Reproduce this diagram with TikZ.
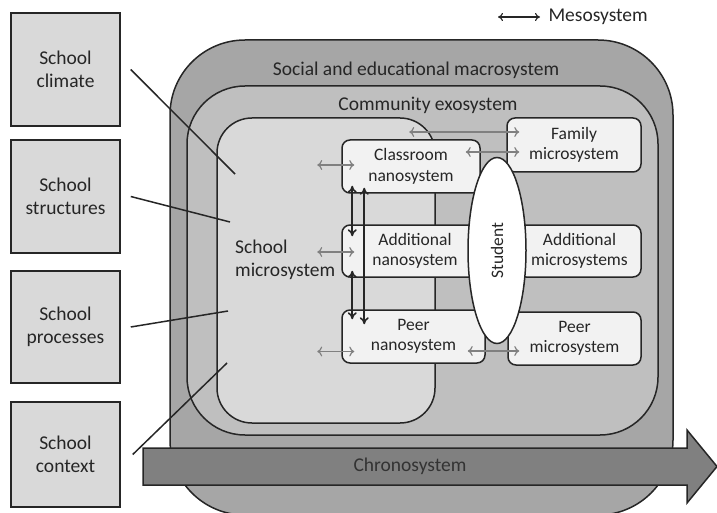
\documentclass[tikz,border=0pt]{standalone}
\usepackage{fontspec}
\setmainfont{Carlito}
\usetikzlibrary{arrows.meta,shapes.geometric}
\definecolor{macro_gray}{HTML}{A6A6A6}
\definecolor{exo_gray}{HTML}{BFBFBF}
\definecolor{micro_gray}{HTML}{D9D9D9}
\definecolor{nano_gray}{HTML}{F2F2F2}
\definecolor{chrono_gray}{HTML}{808080}
\definecolor{ink}{HTML}{262626}

\begin{document}
\begin{tikzpicture}[x=1pt,y=-1pt,
    big/.style={font=\fontsize{19.5}{23.5}\selectfont,text=ink},
    small/.style={font=\fontsize{17.5}{20.5}\selectfont,text=ink},
    sysbox/.style={draw=ink,line width=1.5pt,inner sep=0pt},
    schoolbox/.style={sysbox,fill=micro_gray,minimum width=109pt,align=center,big},
    nanobox/.style={sysbox,fill=nano_gray,rounded corners=8pt,align=center,small},
    link/.style={draw=ink,line width=1.5pt},
    meso/.style={<->,>={To[length=5pt,width=10pt]},draw=chrono_gray,line width=1.2pt},
    nest/.style={<->,>={To[length=7pt,width=9pt]},draw=ink,line width=1.6pt}]
    \useasboundingbox (0,0) rectangle (717,513);
    \node[sysbox,fill=macro_gray,minimum width=503pt,minimum height=475pt,rounded corners=75pt] (macro) at (421.5,277.5) {};
    \node[sysbox,fill=exo_gray,minimum width=471pt,minimum height=349pt,rounded corners=58pt] (exo) at (422.5,260.5) {};
    \node[sysbox,fill=micro_gray,minimum width=218pt,minimum height=305pt,rounded corners=35pt] (school) at (326,270.5) {};
    \node[big] (macrolbl) at (416,70) {Social and educational macrosystem};
    \node[big] (exolbl) at (428,105) {Community exosystem};
    \node[big,anchor=west,align=left,inner sep=0pt] (schoollbl) at (235,260) {School\\microsystem};
    \node[schoolbox,minimum height=113pt] (climate) at (65.5,69.5) {School\\climate};
    \node[schoolbox,minimum height=113pt] (structures) at (65.5,196.5) {School\\structures};
    \node[schoolbox,minimum height=112pt] (processes) at (65.5,327) {School\\processes};
    \node[schoolbox,minimum height=105pt] (context) at (65.5,454.5) {School\\context};
    \coordinate (climatept) at (235,174);
    \coordinate (structurespt) at (230,222);
    \coordinate (processespt) at (228,311);
    \coordinate (contextpt) at (227,363);
    \draw[link] ([xshift=10pt]climate.east) -- (climatept);
    \draw[link] ([xshift=10pt]structures.east) -- (structurespt);
    \draw[link] ([xshift=10pt]processes.east) -- (processespt);
    \draw[link] ([xshift=12pt]context.east) -- (contextpt);
    \node[nanobox,minimum width=138pt,minimum height=53pt] (classroom) at (411,166.5) {Classroom\\nanosystem};
    \node[nanobox,minimum width=146pt,minimum height=52pt] (addnano) at (415,251) {Additional\\nanosystem};
    \node[nanobox,minimum width=143pt,minimum height=53pt] (peernano) at (413.5,336.5) {Peer\\nanosystem};
    \node[nanobox,minimum width=134pt,minimum height=54pt] (family) at (574,145) {Family\\microsystem};
    \node[nanobox,minimum width=123pt,minimum height=52pt] (addmicro) at (579.5,251) {Additional\\microsystems};
    \node[nanobox,minimum width=133pt,minimum height=53pt] (peermicro) at (574.5,338.5) {Peer\\microsystem};
    \node[sysbox,ellipse,fill=white,minimum width=186pt,minimum height=58pt,rotate=90,small] (student) at (497,250.5) {Student};
    \draw[meso] ([shift={(-24,-1.5)}]classroom.west) -- ([shift={(13,-1.5)}]classroom.west);
    \draw[meso] ([shift={(-24,1)}]addnano.west) -- ([shift={(13,1)}]addnano.west);
    \draw[meso] ([shift={(-24,15)}]peernano.west) -- ([shift={(13,15)}]peernano.west);
    \draw[meso] ([shift={(-97,-13)}]family.west) -- ([shift={(13,-13)}]family.west);
    \draw[meso] ([shift={(-15,-14.5)}]classroom.east) -- ([shift={(13,7)}]family.west);
    \draw[meso] ([shift={(-18,14.5)}]peernano.east) -- ([shift={(12,12.5)}]peermicro.west);
    \draw[nest] ([shift={(11,-8)}]classroom.south west) -- ([shift={(11,12)}]addnano.north west);
    \draw[nest] ([shift={(11,-7)}]addnano.south west) -- ([shift={(11,10)}]peernano.north west);
    \draw[nest] ([shift={(23,-6)}]classroom.south west) -- ([shift={(23,15)}]peernano.north west);
    \draw[sysbox,fill=chrono_gray] (143,448) -- (687,448) -- (687,430) -- (717,466.5) -- (687,503) -- (687,485) -- (143,485) -- cycle;
    \node[big,text=black!80] (chrono) at (410,466.5) {Chronosystem};
    \node[big,anchor=west] (mesolbl) at (545,17) {Mesosystem};
    \coordinate (mesopt) at (498,17);
    \draw[<->,>={To[length=5pt,width=8pt]},draw=ink,line width=1.1pt] (mesopt) -- ([xshift=-5pt]mesolbl.west);
  \end{tikzpicture}
\end{document}
